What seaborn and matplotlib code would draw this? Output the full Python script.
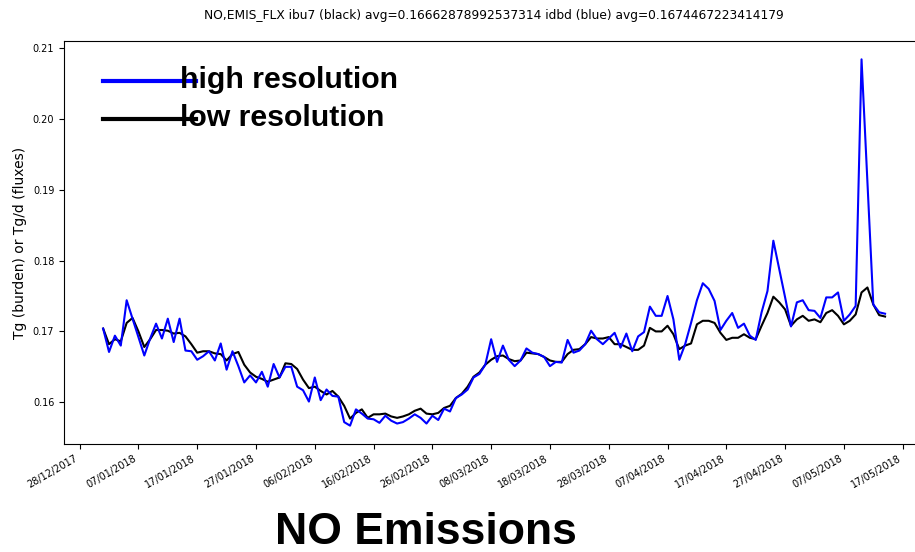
import numpy as np
import pandas as pd
import matplotlib
matplotlib.use("Agg")
import matplotlib.pyplot as plt
import matplotlib.dates as mdates
import seaborn as sns

# Daily NO emission flux, 1 Jan - 14 May 2018
dates = pd.date_range("2018-01-01", "2018-05-14", freq="D")

high_res = [
    0.1704, 0.1671, 0.1694, 0.1680, 0.1744, 0.1718, 0.1692, 0.1666, 0.1690, 0.1711,
    0.1690, 0.1718, 0.1685, 0.1718, 0.1673, 0.1672, 0.1660, 0.1665, 0.1672, 0.1659,
    0.1683, 0.1646, 0.1672, 0.1651, 0.1628, 0.1638, 0.1628, 0.1643, 0.1622, 0.1654,
    0.1635, 0.1650, 0.1650, 0.1622, 0.1617, 0.1601, 0.1635, 0.1603, 0.1618, 0.1609,
    0.1608, 0.1572, 0.1567, 0.1590, 0.1584, 0.1577, 0.1576, 0.1571, 0.1581, 0.1574,
    0.1570, 0.1572, 0.1577, 0.1583, 0.1578, 0.1570, 0.1581, 0.1575, 0.1591, 0.1587,
    0.1606, 0.1611, 0.1618, 0.1635, 0.1640, 0.1653, 0.1689, 0.1657, 0.1680, 0.1660,
    0.1651, 0.1659, 0.1676, 0.1670, 0.1668, 0.1664, 0.1651, 0.1657, 0.1656, 0.1688,
    0.1670, 0.1673, 0.1682, 0.1701, 0.1689, 0.1682, 0.1690, 0.1698, 0.1677, 0.1697,
    0.1672, 0.1693, 0.1699, 0.1735, 0.1722, 0.1722, 0.1750, 0.1717, 0.1660, 0.1682,
    0.1712, 0.1744, 0.1768, 0.1760, 0.1743, 0.1702, 0.1715, 0.1726, 0.1705, 0.1711,
    0.1694, 0.1688, 0.1727, 0.1757, 0.1828, 0.1788, 0.1748, 0.1707, 0.1741, 0.1744,
    0.1730, 0.1729, 0.1719, 0.1748, 0.1748, 0.1755, 0.1715, 0.1724, 0.1736, 0.2084,
    0.1911, 0.1738, 0.1727, 0.1725,
]

low_res = [
    0.1704, 0.1682, 0.1689, 0.1686, 0.1712, 0.1719, 0.1700, 0.1678, 0.1689, 0.1702,
    0.1702, 0.1701, 0.1697, 0.1698, 0.1693, 0.1682, 0.1670, 0.1672, 0.1672, 0.1669,
    0.1668, 0.1659, 0.1668, 0.1671, 0.1653, 0.1642, 0.1636, 0.1633, 0.1629, 0.1632,
    0.1635, 0.1655, 0.1654, 0.1647, 0.1632, 0.1620, 0.1622, 0.1616, 0.1611, 0.1616,
    0.1608, 0.1595, 0.1577, 0.1585, 0.1590, 0.1578, 0.1583, 0.1583, 0.1584, 0.1580,
    0.1578, 0.1580, 0.1583, 0.1588, 0.1591, 0.1584, 0.1583, 0.1585, 0.1592, 0.1595,
    0.1606, 0.1612, 0.1622, 0.1636, 0.1642, 0.1653, 0.1660, 0.1665, 0.1666, 0.1661,
    0.1658, 0.1659, 0.1670, 0.1669, 0.1668, 0.1664, 0.1659, 0.1657, 0.1657, 0.1668,
    0.1674, 0.1675, 0.1682, 0.1692, 0.1690, 0.1690, 0.1692, 0.1682, 0.1682, 0.1678,
    0.1674, 0.1674, 0.1680, 0.1705, 0.1700, 0.1700, 0.1708, 0.1696, 0.1675, 0.1680,
    0.1683, 0.1710, 0.1715, 0.1715, 0.1712, 0.1698, 0.1688, 0.1691, 0.1691, 0.1696,
    0.1691, 0.1689, 0.1708, 0.1726, 0.1749, 0.1741, 0.1731, 0.1708, 0.1717, 0.1722,
    0.1715, 0.1717, 0.1713, 0.1726, 0.1730, 0.1722, 0.1710, 0.1715, 0.1724, 0.1755,
    0.1762, 0.1738, 0.1723, 0.1721,
]

tick_dates = pd.date_range("2017-12-28", "2018-05-17", freq="10D")

title = ("NO,EMIS_FLX ibu7 (black) avg=0.16662878992537314 "
         "idbd (blue) avg=0.1674467223414179")

df = pd.DataFrame({
    "date": np.concatenate([dates, dates]),
    "value": high_res + low_res,
    "run": ["high resolution"] * len(dates) + ["low resolution"] * len(dates),
})

fig = plt.figure(figsize=(9.15, 5.52), dpi=100)
ax = fig.add_axes([0.070, 0.1957, 0.940, 0.730])

sns.lineplot(data=df[df.run == "low resolution"], x="date", y="value",
             color="black", linewidth=1.5, label="low resolution", ax=ax, zorder=2)
sns.lineplot(data=df[df.run == "high resolution"], x="date", y="value",
             color="#0000ff", linewidth=1.5, label="high resolution", ax=ax, zorder=3)

ax.set_xticks(tick_dates)
ax.xaxis.set_major_formatter(mdates.DateFormatter("%d/%m/%Y"))
plt.setp(ax.get_xticklabels(), rotation=30, ha="right", fontsize=7)
plt.setp(ax.get_yticklabels(), fontsize=7)

ax.set_xlabel("")
ax.set_ylabel("Tg (burden) or Tg/d (fluxes)", fontsize=10)
ax.set_title(title, fontsize=8.8, pad=16)

handles, labels = ax.get_legend_handles_labels()
order = [labels.index("high resolution"), labels.index("low resolution")]
leg = ax.legend([handles[i] for i in order], [labels[i] for i in order],
                loc="upper left", bbox_to_anchor=(0.045, 0.937),
                frameon=False, borderpad=0, borderaxespad=0,
                handlelength=3.07, handletextpad=-0.52, labelspacing=0.32,
                prop={"family": "Liberation Sans", "weight": "bold", "size": 21.8})
for line in leg.get_lines():
    line.set_linewidth(3)
    line.set_ydata(np.asarray(line.get_ydata()) - 2.5)

fig.text(0.466, 0.014, "NO Emissions", ha="center", va="baseline",
         family="Liberation Sans", weight="bold", fontsize=32)

fig.savefig("out.png", dpi=100)
